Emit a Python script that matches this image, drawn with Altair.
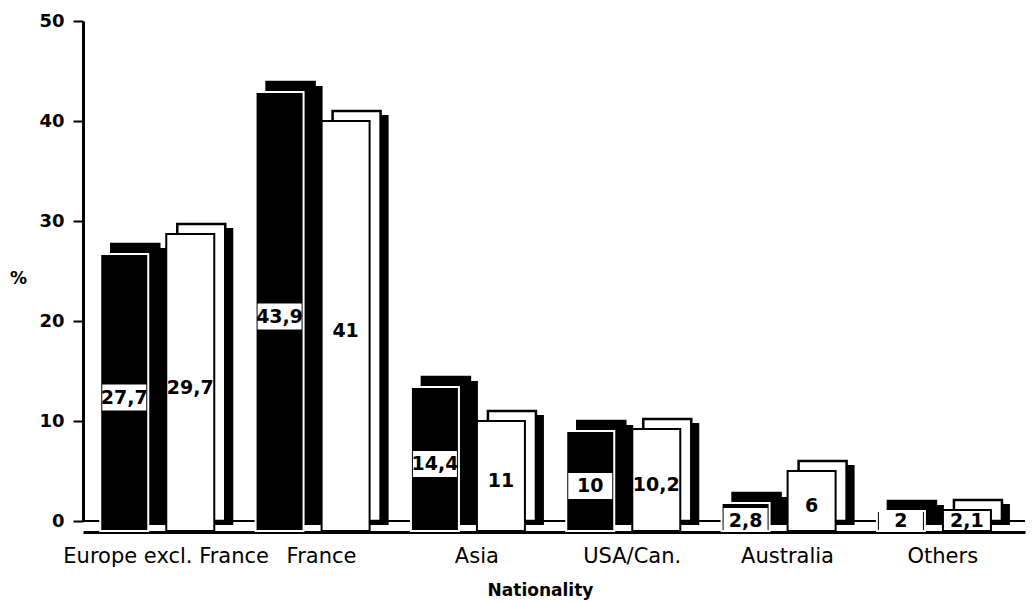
import altair as alt
import pandas as pd

categories = ["Europe excl. France", "France", "Asia", "USA/Can.", "Australia", "Others"]
series_names = ["black", "dotted"]
black_values = [27.7, 43.9, 14.4, 10, 2.8, 2]
dotted_values = [29.7, 41, 11, 10.2, 6, 2.1]

rows = []
for i, (c, b, d) in enumerate(zip(categories, black_values, dotted_values)):
    rows.append({"idx": i, "cat": c, "series": "black", "value": b})
    rows.append({"idx": i, "cat": c, "series": "dotted", "value": d})
df = pd.DataFrame(rows)

FONT = "DejaVu Sans"
BW = 48

cat_array = "[" + ",".join("'" + c + "'" for c in categories) + "]"

x_scale = alt.Scale(domain=[-0.5, len(categories) - 0.5], nice=False, zero=False)
x_axis = alt.Axis(
    title="Nationality", values=list(range(len(categories))),
    labelExpr=cat_array + "[datum.value]",
    labelAngle=0, ticks=False, grid=False, offset=11,
    domainWidth=3, domainColor="black", labelPadding=13,
    labelFont=FONT, labelFontSize=21, labelColor="black",
    labelOverlap=False, labelBound=False, labelFlush=False, labelLimit=400,
    titleFont=FONT, titleFontSize=17, titleFontWeight="bold",
    titleColor="black", titlePadding=16, titleX=457, titleAlign="center",
)
x_enc = alt.X("xpos:Q", scale=x_scale, axis=x_axis)

y_scale = alt.Scale(domain=[0, 50], nice=False)
y_axis = alt.Axis(
    values=[0, 10, 20, 30, 40, 50], grid=False, domainWidth=3,
    domainColor="black", tickColor="black", tickSize=10, tickWidth=2,
    labelFont=FONT, labelFontSize=18, labelFontWeight="bold",
    labelColor="black", labelPadding=9,
    title="%", titleAngle=0, titleX=-65, titleY=257,
    titleAlign="center", titleBaseline="middle",
    titleFont=FONT, titleFontSize=17, titleFontWeight="bold",
    titleColor="black",
)
fill_scale = alt.Scale(domain=series_names, range=["black", "white"])

base = alt.Chart(df).transform_calculate(
    xpos="datum.idx + (datum.series == 'black' ? -0.228 : 0.197)",
    label="replace(toString(datum.value), '.', ',')",
    label_y="max(datum.value / 2 - 1.5, 0)",
).transform_calculate(
    band_lo="max(datum.label_y - 1.3, -1.1)",
    band_hi="min(datum.label_y + 1.3, datum.value - 1)",
)

floor = base.mark_rule(color="black", strokeWidth=2).encode(
    y=alt.datum(0, scale=y_scale, axis=y_axis, type="quantitative")
)

strip = base.mark_bar(width=BW, xOffset=13, yOffset=4, y2Offset=10, color="black").encode(
    x=x_enc,
    y=alt.Y("value:Q", scale=y_scale, axis=y_axis),
)

depth = base.mark_bar(width=BW, xOffset=5, stroke="black", strokeWidth=2.5).encode(
    x=x_enc,
    y=alt.Y("value:Q", scale=y_scale, axis=y_axis),
    fill=alt.Fill("series:N", scale=fill_scale, legend=None),
)

front = base.mark_bar(width=BW, xOffset=-6, yOffset=10, y2Offset=10, strokeWidth=2).encode(
    x=x_enc,
    y=alt.Y("value:Q", scale=y_scale, axis=y_axis),
    fill=alt.Fill("series:N", scale=fill_scale, legend=None),
    stroke=alt.Stroke("series:N", scale=alt.Scale(domain=series_names, range=["white", "black"]), legend=None),
)

band = base.transform_filter("datum.series == 'black'").mark_bar(
    width=BW - 4, xOffset=-6, color="white"
).encode(
    x=x_enc,
    y=alt.Y("band_hi:Q", scale=y_scale, axis=y_axis),
    y2="band_lo:Q",
)

text = base.mark_text(
    dx=-6, font=FONT, fontSize=19, fontWeight="bold",
    color="black", baseline="middle", align="center",
).encode(
    x=x_enc,
    y=alt.Y("label_y:Q", scale=y_scale, axis=y_axis),
    text="label:N",
)

chart = alt.layer(floor, strip, depth, front, band, text).properties(
    width=942, height=500,
    autosize=alt.AutoSizeParams(type="none"),
    padding={"left": 83, "top": 21, "right": 7, "bottom": 82},
    background="white",
).configure_view(stroke=None)

chart.save("out.html", embed_options={"renderer": "svg", "actions": False})
